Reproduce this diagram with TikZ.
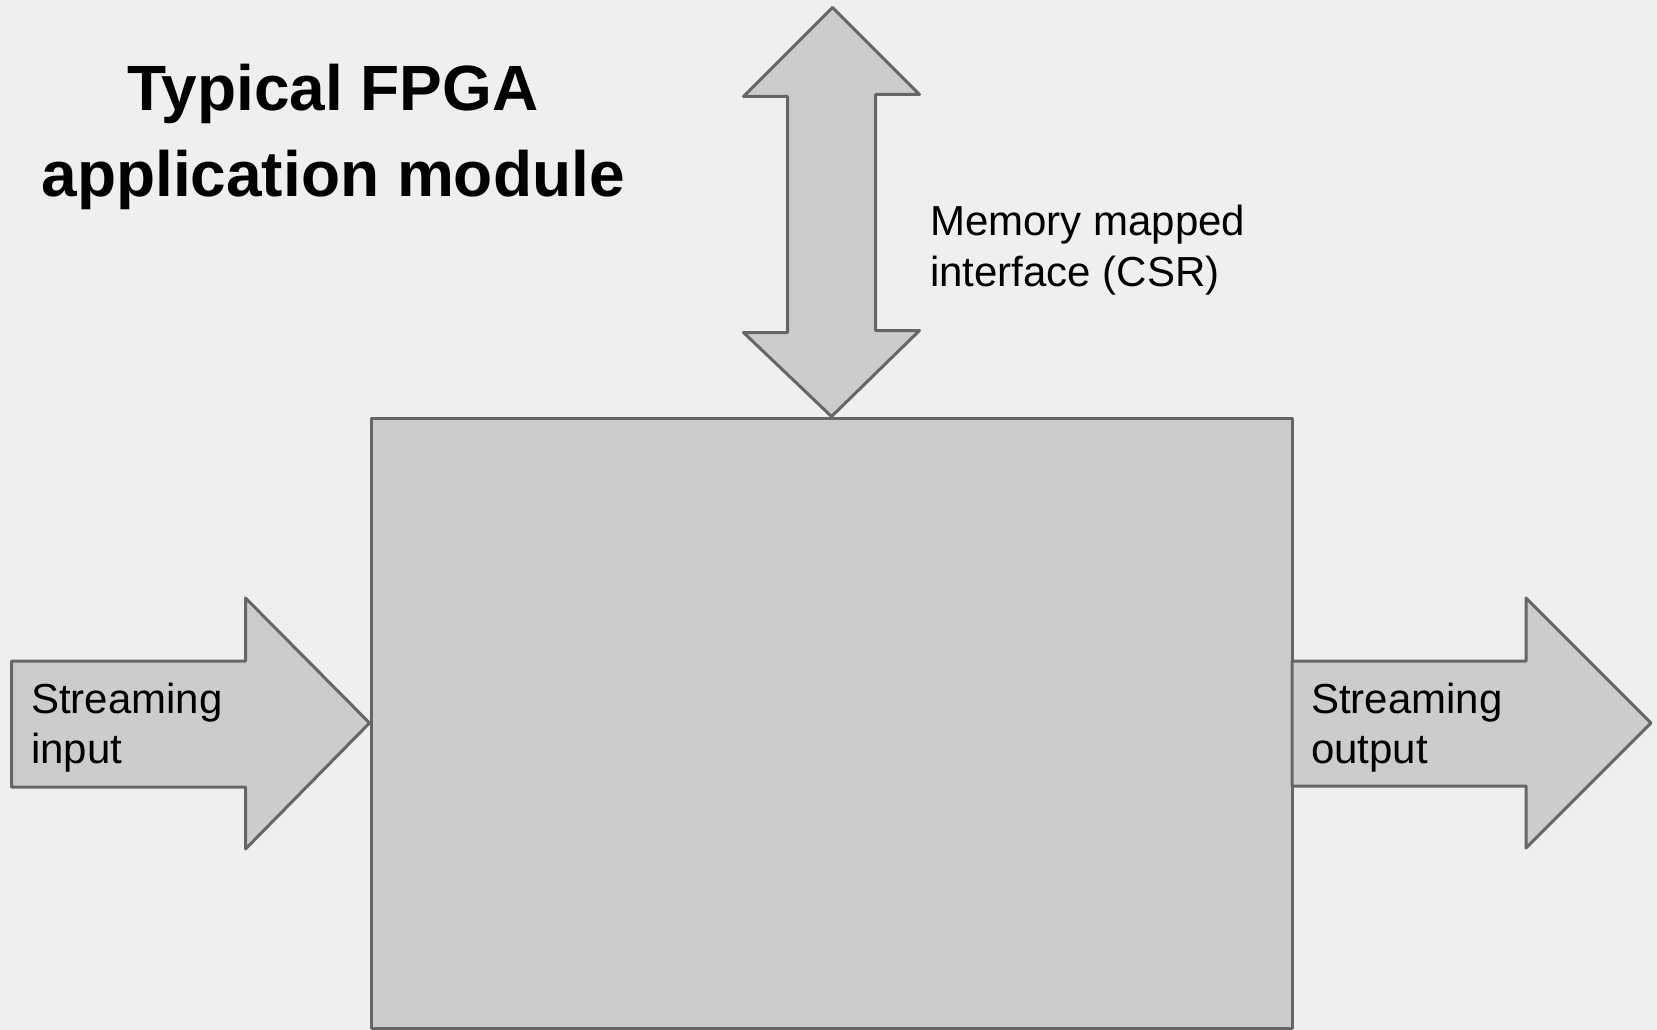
\documentclass[tikz,border=0pt]{standalone}
\usepackage{fontspec}
\setmainfont{Liberation Sans}
\usepackage{tikz}
\usetikzlibrary{positioning,calc}
\definecolor{pagebg}{HTML}{EFEFEF}
\definecolor{blockfill}{HTML}{CCCCCC}
\definecolor{blockline}{HTML}{666666}

\begin{document}
\begin{tikzpicture}[x=1pt,y=-1pt,
    block/.style={draw=blockline,fill=blockfill,line width=3pt,line join=round},
    lbl/.style={font=\fontsize{42}{51}\selectfont,inner sep=0pt,text=black},
    heading/.style={font=\fontsize{64}{85}\selectfont\bfseries,inner sep=0pt,text=black}]
  % page
  \fill[pagebg] (0,0) rectangle (1657,1030);
  \useasboundingbox (0,0) rectangle (1657,1030);
  % the module
  \node[block,minimum width=921pt,minimum height=610pt,inner sep=0pt] (module) at (831.5,723) {};
  % streaming in
  \draw[block] (module.west) -- ++(-124,-125) -- ++(0,63) -- ++(-234,0) -- ++(0,126)
    -- ++(234,0) -- ++(0,62) -- cycle;
  % streaming out
  \draw[block] (1292,661) -- (1526,661) -- (1526,598) -- (1651,723) -- (1526,848)
    -- (1526,786) -- (1292,786) -- cycle;
  % CSR port, both ways
  \draw[block] (module.north) -- ++(88,-86) -- ++(-44,0) -- ++(0,-236) -- ++(44,0)
    -- ++(-87,-87) -- ++(-89,89) -- ++(44,0) -- ++(0,236) -- ++(-44,0) -- cycle;
  % title
  \node[heading,anchor=base] (title1) at (333,111) {Typical FPGA};
  \node[heading,anchor=base] (title2) at (333,196) {application module};
  % labels
  \node[lbl,anchor=base west] (csr1) at (930,235) {Memory mapped};
  \node[lbl,anchor=base west] (csr2) at (930,286) {interface (CSR)};
  \node[lbl,anchor=base west] (in1) at (31,713) {Streaming};
  \node[lbl,anchor=base west] (in2) at (31,763) {input};
  \node[lbl,anchor=base west] (out1) at (1311,713) {Streaming};
  \node[lbl,anchor=base west] (out2) at (1311,763) {output};
\end{tikzpicture}
\end{document}
